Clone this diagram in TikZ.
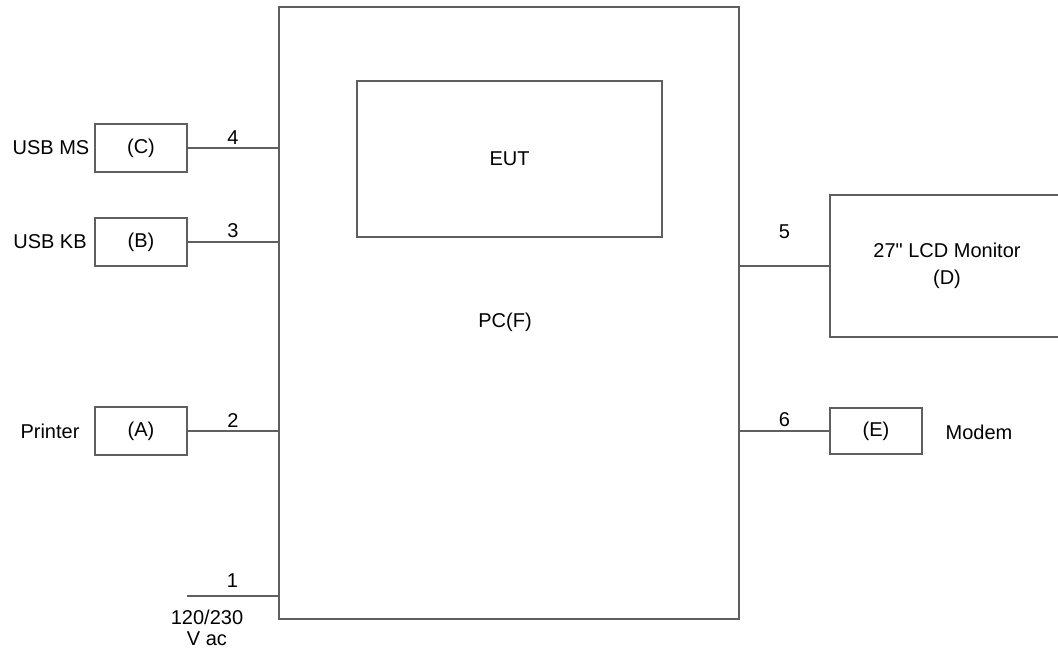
\documentclass[tikz,border=0pt]{standalone}
\usepackage{fontspec}
\setmainfont{Liberation Sans}[Ligatures=TeXOff]
\begin{document}
\begin{tikzpicture}[x=1pt,y=-1pt,
  every node/.style={font=\fontsize{20}{24}\selectfont, text=black},
  box/.style={draw=linegray, line width=1.8pt, inner sep=0pt, rectangle},
  conn/.style={draw=linegray, line width=1.8pt},
  num/.style={midway, above, inner sep=3pt}]
\definecolor{linegray}{RGB}{95,95,95}
\clip (0,0) rectangle (1058,654);
\fill[white] (0,0) rectangle (1058,654);
% main PC box
\node[box, minimum width=460pt, minimum height=612pt] (PC) at (509,313) {};
\node (PCl) at (505,322) {PC(F)};
\node[box, minimum width=305pt, minimum height=156pt] (EUT) at (509.5,159) {EUT};
% left devices
\node[box, minimum width=92pt, minimum height=48pt] (C) at (141,148) {(C)};
\node[box, minimum width=92pt, minimum height=48pt] (B) at (141,242) {(B)};
\node[box, minimum width=92pt, minimum height=48pt] (A) at (141,431) {(A)};
\node (Cl) at (51,148) {USB MS};
\node (Bl) at (50,242) {USB KB};
\node (Al) at (50,431) {Printer};
\draw[conn] (C.east) -- (C.east -| PC.west) node[num] {4};
\draw[conn] (B.east) -- (B.east -| PC.west) node[num] {3};
\draw[conn] (A.east) -- (A.east -| PC.west) node[num] {2};
\coordinate (pw) at (187,596);
\draw[conn] (pw) -- (pw -| PC.west) node[num, inner sep=8pt] {1};
\node[align=center, inner sep=0pt] (pwl) at (207,628) {120/230\\[-3pt]V ac};
% right devices
\node[box, minimum width=234pt, minimum height=142pt, align=center] (D) at (947,266) {27" LCD Monitor\\[3pt](D)};
\node[box, minimum width=92pt, minimum height=46pt] (E) at (876,431) {(E)};
\node (El) at (979,432) {Modem};
\draw[conn] (D.west -| PC.east) -- (D.west) node[num, inner sep=26pt] {5};
\draw[conn] (E.west -| PC.east) -- (E.west) node[num] {6};
\end{tikzpicture}
\end{document}
